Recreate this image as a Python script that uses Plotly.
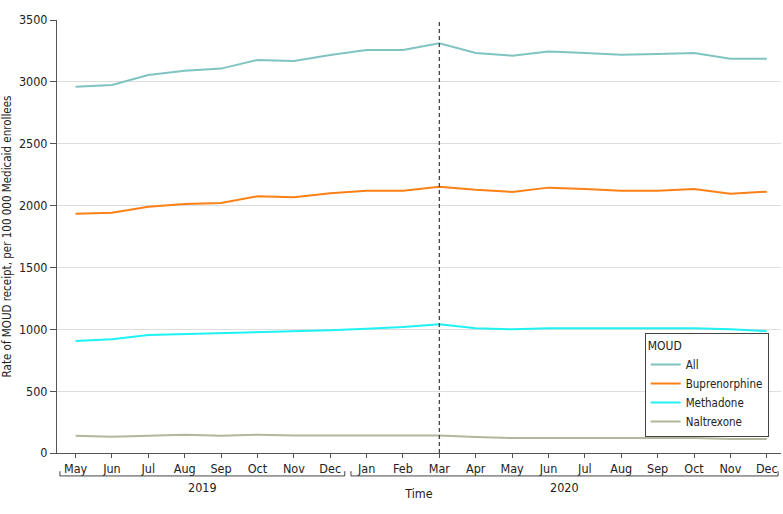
import plotly.graph_objects as go

months = ["May", "Jun", "Jul", "Aug", "Sep", "Oct", "Nov", "Dec",
          "Jan", "Feb", "Mar", "Apr", "May", "Jun", "Jul", "Aug", "Sep", "Oct", "Nov", "Dec"]
years = ["2019", "2020"]
year_spans = [(0, 7), (8, 19)]
x_idx = list(range(len(months)))

all_moud = [2960, 2975, 3055, 3090, 3107, 3177, 3169, 3217, 3257, 3257,
            3311, 3233, 3212, 3246, 3233, 3219, 3225, 3233, 3187, 3187]
buprenorphine = [1934, 1942, 1991, 2013, 2021, 2075, 2067, 2099, 2120, 2120,
                 2153, 2128, 2110, 2145, 2134, 2120, 2120, 2134, 2096, 2112]
methadone = [905, 919, 954, 962, 970, 975, 981, 992, 1005, 1018,
             1040, 1008, 1000, 1008, 1008, 1008, 1008, 1008, 1000, 984]
naltrexone = [140, 132, 140, 148, 140, 148, 142, 142, 148, 142,
              142, 129, 121, 121, 121, 121, 121, 121, 113, 113]

series = [
    ("All", all_moud, "#7fc4c2"),
    ("Buprenorphine", buprenorphine, "#fb8117"),
    ("Methadone", methadone, "#1ff1f4"),
    ("Naltrexone", naltrexone, "#b3b59c"),
]
policy_month = 10  # Mar 2020

FONT = "DejaVu Sans Condensed, Liberation Sans Narrow, sans-serif"

fig = go.Figure()
for name, vals, color in series:
    fig.add_trace(go.Scatter(x=x_idx, y=vals, mode="lines", name=name,
                             line=dict(color=color, width=2)))

fig.add_shape(type="line", xref="x", yref="y", x0=policy_month, x1=policy_month,
              y0=0, y1=3500, line=dict(color="#444444", width=1.3, dash="4px,3px"))

for yr, (a, b) in zip(years, year_spans):
    x0, x1 = a - 0.43, (b + 0.31 if b == 19 else b + 0.40)
    line = dict(color="#444444", width=1)
    fig.add_shape(type="line", xref="x", yref="paper", x0=x0, x1=x1, y0=-0.053, y1=-0.053, line=line)
    fig.add_shape(type="line", xref="x", yref="paper", x0=x0, x1=x0, y0=-0.053, y1=-0.042, line=line)
    fig.add_shape(type="line", xref="x", yref="paper", x0=x1, x1=x1, y0=-0.053, y1=-0.042, line=line)
    fig.add_annotation(x=(x0 + x1) / 2, y=-0.080, xref="x", yref="paper", text=yr,
                       showarrow=False, font=dict(size=12.5, color="#222222"), yanchor="middle")

fig.update_layout(
    width=783, height=514,
    margin=dict(l=57, r=2, t=20, b=61),
    paper_bgcolor="white", plot_bgcolor="white",
    font=dict(family=FONT, size=12.5, color="#222222"),
    showlegend=True,
    legend=dict(title=dict(text="MOUD", font=dict(size=12)), x=0.983, y=0.276,
                xanchor="right", yanchor="top",
                bordercolor="#444444", borderwidth=1, bgcolor="white",
                font=dict(size=11.5), tracegroupgap=0, itemwidth=30),
    xaxis=dict(range=[-0.51, 19.39], tickmode="array", tickvals=x_idx, ticktext=months,
               showgrid=False, zeroline=False, showline=True, linecolor="#555555", linewidth=1,
               ticks="outside", ticklen=4, tickcolor="#555555",
               title=dict(text="Time", standoff=14, font=dict(size=12.5))),
    yaxis=dict(range=[0, 3500], dtick=500, showgrid=True, gridcolor="#dddddd", gridwidth=1,
               zeroline=False, showline=True, linecolor="#555555", linewidth=1,
               ticks="outside", ticklen=6, tickcolor="#555555",
               title=dict(text="Rate of MOUD receipt, per 100 000 Medicaid enrollees",
                          standoff=10, font=dict(size=11.5))),
)

fig.write_html("out.html", post_script="document.body.style.margin='0';",
               config={"displayModeBar": False})
